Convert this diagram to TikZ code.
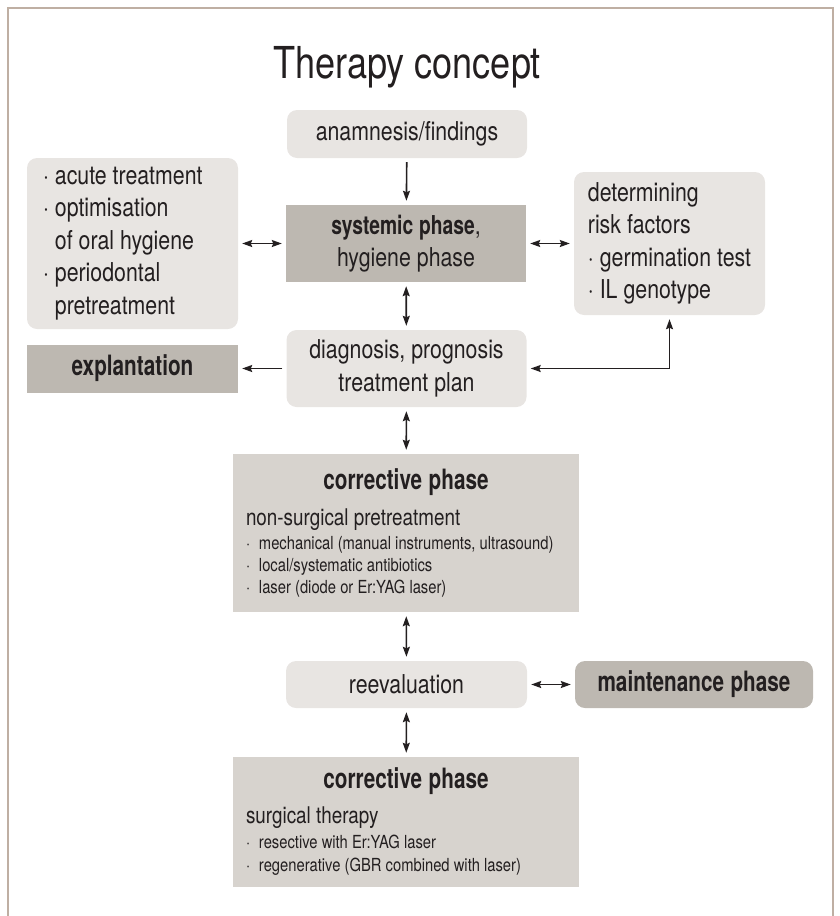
\documentclass[tikz,border=0pt]{standalone}
\usepackage{fontspec}
\setmainfont{TeX Gyre Heros}[FakeStretch=0.82,BoldFeatures={FakeStretch=0.74}]
\usetikzlibrary{arrows.meta}
\definecolor{boxlight}{HTML}{E8E5E2}
\definecolor{boxmid}{HTML}{D7D3CE}
\definecolor{boxdark}{HTML}{BDB8B1}
\definecolor{framegrey}{HTML}{BFAFA3}
\definecolor{ink}{HTML}{231F20}
\newcommand\setsize[2]{\fontsize{#1}{#2}\selectfont\spaceskip=.23em plus .05em minus .03em\relax}
\newcommand\dotitem{\makebox[13pt][l]{·}}
\tikzset{
  base/.style={inner sep=0pt, text=ink, font=\setsize{26}{32.5}},
  light/.style={base, fill=boxlight, rounded corners=10pt},
  dark/.style={base, fill=boxdark},
  mid/.style={base, fill=boxmid, align=flush left, text width=320pt, minimum width=346pt},
  link/.style={draw=ink, line width=1.6pt, shorten <=4pt, shorten >=4pt},
  >={Stealth[length=10pt,width=7pt,inset=1.5pt]}
}
\begin{document}
\begin{tikzpicture}[x=1pt,y=-1pt]
\useasboundingbox (0,0) rectangle (839,916);
% frame, open at the bottom
\draw[framegrey, line width=2pt] (8,916) -- (8,8) -- (833,8) -- (833,916);
\node[base, anchor=base] (title) at (407,78) {\setsize{44}{44}Therapy concept};

\node[light, minimum width=240pt, minimum height=48pt] (anam) at (407,134) {anamnesis/findings};
\node[dark, align=flush center, minimum width=240pt, minimum height=77pt] (syst) at (406,243.5)
  {\textbf{systemic phase},\\hygiene phase};
\node[light, align=flush left, text width=179pt, minimum width=211pt, minimum height=171pt] (acute) at (132.5,243.5)
  {· acute treatment\\· optimisation\\\phantom{· }of oral hygiene\\· periodontal\\\phantom{· }pretreatment};
\node[light, align=flush left, minimum width=191pt, minimum height=143pt] (risk) at (669.5,243.5)
  {determining\\risk factors\\· germination test\\· IL genotype};
\node[light, align=flush center, minimum width=240pt, minimum height=77pt] (diag) at (406.5,368.5)
  {diagnosis, prognosis\\treatment plan};
\node[dark, minimum width=211pt, minimum height=48pt] (expl) at (132.5,368.5)
  {\setsize{28}{28}\bfseries explantation};

\node[mid, minimum height=158pt] (corr1) at (406,533) {%
  {\setsize{28}{28}\bfseries\centering corrective phase\par}
  {\setsize{23}{36}non-surgical pretreatment\par}
  \vskip2pt
  {\setsize{18}{22}%
  \dotitem mechanical (manual instruments, ultrasound)\par
  \dotitem local/systematic antibiotics\par
  \dotitem laser (diode or Er:YAG laser)\par}};

\node[light, minimum width=241pt, minimum height=47pt] (reev) at (406.5,684.5) {reevaluation};
\node[dark, rounded corners=10pt, minimum width=238pt, minimum height=47pt] (maint) at (694,684.5)
  {\setsize{28}{28}\bfseries maintenance phase};

\node[mid, minimum height=130pt] (corr2) at (406,822) {%
  {\setsize{28}{28}\bfseries\centering corrective phase\par}
  {\setsize{23}{35}surgical therapy\par}
  \vskip2pt
  {\setsize{18}{23}%
  \dotitem resective with Er:YAG laser\par
  \dotitem regenerative (GBR combined with laser)\par}};

% connectors
\draw[link,->] (anam) -- (syst);
\draw[link,<->] (acute) -- (syst);
\draw[link,<->] (syst) -- (risk);
\draw[link,<->] (syst) -- (diag);
\draw[link,->] (diag) -- (expl);
\draw[link,<->] (risk.south) |- (diag.east);
\draw[link,<->] (diag) -- (corr1);
\draw[link,<->] (corr1) -- (reev);
\draw[link,<->] (reev) -- (maint);
\draw[link,<->] (reev) -- (corr2);
\end{tikzpicture}
\end{document}
